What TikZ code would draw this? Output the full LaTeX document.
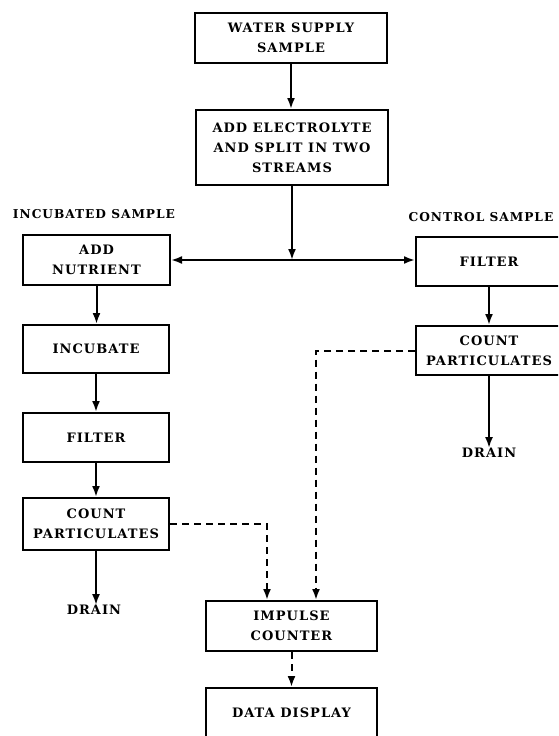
\documentclass[tikz,border=0pt]{standalone}
\usepackage{fontspec}
\setmainfont{DejaVu Serif}[LetterSpace=8]
\usetikzlibrary{arrows.meta}
\begin{document}
\begin{tikzpicture}[x=1pt,y=-1pt,
  txt/.style={font=\bfseries\fontsize{13}{20}\selectfont, align=center, inner sep=0pt},
  lbl/.style={txt, font=\bfseries\fontsize{12.2}{20}\selectfont},
  box/.style={txt, draw, line width=2pt, fill=white},
  arr/.style={line width=2pt, -{Latex[length=11pt,width=8pt]}},
  darr/.style={arr, dash pattern=on 7pt off 5pt}]
\useasboundingbox (0,0) rectangle (558,736);
\clip (0,0) rectangle (558,736);
% boxes
\node[box, minimum width=192pt, minimum height=50pt] (ws) at (291,37.5) {WATER SUPPLY\\SAMPLE};
\node[box, minimum width=192pt, minimum height=75pt] (el) at (292,147.5) {ADD ELECTROLYTE\\AND SPLIT IN TWO\\STREAMS};
\node[box, minimum width=147pt, minimum height=50pt] (an) at (96.5,260) {ADD\\NUTRIENT};
\node[box, minimum width=146pt, minimum height=48pt] (inc) at (96,349) {INCUBATE};
\node[box, minimum width=146pt, minimum height=49pt] (fl) at (96,437.5) {FILTER};
\node[box, minimum width=146pt, minimum height=52pt] (cpl) at (96,524) {COUNT\\PARTICULATES};
\node[box, minimum width=146pt, minimum height=49pt] (fr) at (489,261.5) {FILTER};
\node[box, minimum width=146pt, minimum height=49pt] (cpr) at (489,350.5) {COUNT\\PARTICULATES};
\node[box, minimum width=171pt, minimum height=50pt] (ic) at (291.5,626) {IMPULSE\\COUNTER};
\node[box, minimum width=171pt, minimum height=50pt] (dd) at (291.5,713) {DATA DISPLAY};
% labels
\node[lbl] (lin) at (94,214) {INCUBATED SAMPLE};
\node[lbl] (lco) at (481,217) {CONTROL SAMPLE};
\node[txt] (drl) at (94,610) {DRAIN};
\node[txt] (drr) at (489,453) {DRAIN};
% connectors
\coordinate (j) at (el.south |- an.east);
\draw[arr] (ws.south) -- (ws.south |- el.north);
\draw[arr] (el.south) -- (j);
\draw[arr] (j) -- (an.east);
\draw[arr] (j) -- (j -| fr.west);
\draw[arr] (an.south) -- (an.south |- inc.north);
\draw[arr] (inc.south) -- (inc.south |- fl.north);
\draw[arr] (fl.south) -- (fl.south |- cpl.north);
\draw[arr] (cpl.south) -- (cpl.south |- drl.north);
\draw[arr] (fr.south) -- (cpr.north);
\draw[arr] (cpr.south) -- (drr.north);
\draw[darr] (cpl.east) -| ([xshift=-24.5pt]ic.north);
\draw[darr] (cpr.west) -| ([xshift=24.5pt]ic.north);
\draw[darr] (ic.south) -- (dd.north);
\end{tikzpicture}
\end{document}
